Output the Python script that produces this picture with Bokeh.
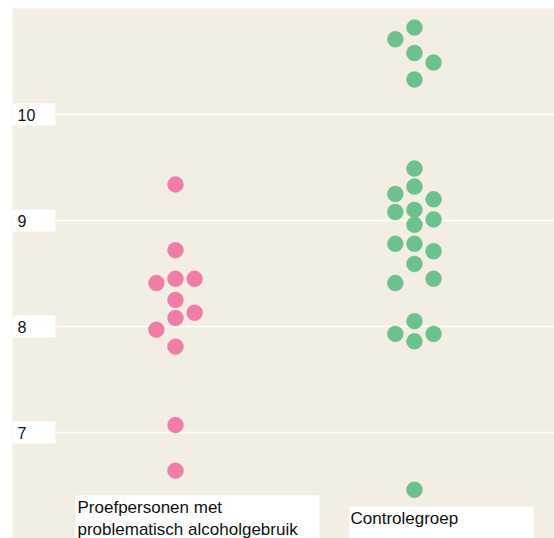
from bokeh.plotting import figure
from bokeh.models import Range1d, Grid, FixedTicker
from bokeh.embed import file_html
from bokeh.resources import INLINE
from bokeh.core.properties import value

# ---- data ----
categories = ["Proefpersonen met\nproblematisch alcoholgebruik", "Controlegroep"]
tick_values = [7, 8, 9, 10]
tick_labels = ["7", "8", "9", "10"]

pink_values = [9.34, 8.72, 8.45, 8.45, 8.41, 8.25, 8.13, 8.08, 7.97, 7.81, 7.07, 6.64]
pink_columns = [0, 0, 0, 1, -1, 0, 1, 0, -1, 0, 0, 0]

green_values = [10.82, 10.71, 10.58, 10.49, 10.33, 9.49, 9.32, 9.25, 9.20, 9.10, 9.08,
                9.01, 8.96, 8.78, 8.78, 8.71, 8.59, 8.45, 8.41, 8.05, 7.93, 7.93, 7.86, 6.46]
green_columns = [0, -1, 0, 1, 0, 0, 0, -1, 1, 0, -1, 1, 0, -1, 0, 1, 0, 1, -1, 0, -1, 1, 0, 0]

# ---- style / layout ----
BG = "#f2eee3"
PINK = "#f07ca8"
GREEN = "#6cc18d"
FONT = value("Liberation Sans")
W, H = 554, 538
BORDER_LEFT, BORDER_TOP = 12, 8
X0, X1 = -0.682, 1.586
Y0, Y1 = 6, 11
FRAME_W = W - BORDER_LEFT
PX_PER_Y = 106.0
COL_STEP = 0.08


def dx(px):
    return X0 + (px - BORDER_LEFT) / FRAME_W * (X1 - X0)


def dy(py):
    return Y1 - (py - BORDER_TOP) / PX_PER_Y


p = figure(width=W, height=H, output_backend="svg", toolbar_location=None,
           x_range=Range1d(X0, X1), y_range=Range1d(Y0, Y1),
           x_axis_location=None, y_axis_location=None,
           min_border_left=BORDER_LEFT, min_border_right=0,
           min_border_top=BORDER_TOP, min_border_bottom=0,
           background_fill_color=BG, border_fill_color="white")
p.outline_line_color = None
for g in p.grid:
    g.visible = False

grid = Grid(dimension=1, ticker=FixedTicker(ticks=tick_values),
            grid_line_color="white", grid_line_width=1.5)
p.add_layout(grid)

# points
for gi, (vals, cols, color) in enumerate([(pink_values, pink_columns, PINK),
                                          (green_values, green_columns, GREEN)]):
    xs = [gi + c * COL_STEP for c in cols]
    p.scatter(xs, vals, size=16, fill_color=color, line_color=color, line_alpha=0.4)

# tick label boxes + labels
half = 11 / PX_PER_Y
p.quad(left=[dx(12)] * len(tick_values), right=[dx(55)] * len(tick_values),
       bottom=[t - half for t in tick_values], top=[t + half for t in tick_values],
       fill_color="white", line_color=None)
p.text(x=[dx(17)] * len(tick_values), y=tick_values, text=tick_labels,
       text_baseline="middle", text_align="left", text_font=FONT,
       text_font_size="16px", text_color="#111111")

# category label boxes
box_px = [(75, 319, 495), (349, 533, 506)]
text_px = [(77, 507), (350, 518)]
for gi, cat in enumerate(categories):
    l, r, t = box_px[gi]
    p.quad(left=[dx(l)], right=[dx(r)], top=[dy(t)], bottom=[Y0 - 0.2],
           fill_color="white", line_color=None)
    lx, ly = text_px[gi]
    for li, line in enumerate(cat.split("\n")):
        p.text(x=[dx(lx)], y=[dy(ly + 22 * li)], text=[line],
               text_baseline="middle", text_align="left", text_font=FONT,
               text_font_size="17px", text_color="#111111")

open("out.html", "w").write(file_html(p, INLINE))
